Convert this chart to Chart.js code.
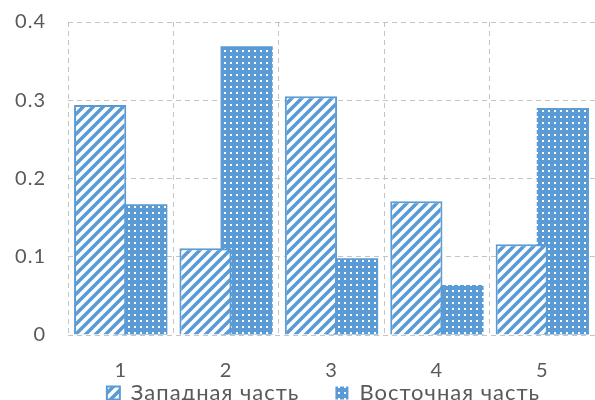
<!DOCTYPE html>
<html>
<head>
<meta charset="utf-8">
<script src="https://cdn.jsdelivr.net/npm/chart.js@4"></script>
<style>
  html, body { margin: 0; padding: 0; background: #fff; }
  #wrap { width: 595px; height: 400px; }
</style>
</head>
<body>
<div id="wrap"><canvas id="barChart" width="595" height="400"></canvas></div>
<script>
const categories = ["1", "2", "3", "4", "5"];
const westValues = [0.294, 0.111, 0.305, 0.171, 0.116];
const eastValues = [0.167, 0.369, 0.098, 0.064, 0.290];
const seriesNames = ["Западная часть", "Восточная часть"];
const yTicks = [0, 0.1, 0.2, 0.3, 0.4];

const blue = "#5b9bd5";
const textColor = "#595959";
const gridColor = "#c4c4c4";

// diagonal hatch "/"
function hatchPattern() {
  const c = document.createElement("canvas");
  c.width = 10; c.height = 10;
  const g = c.getContext("2d");
  g.fillStyle = "#fff";
  g.fillRect(0, 0, 10, 10);
  g.strokeStyle = blue;
  g.lineWidth = 3.5;
  g.beginPath();
  g.moveTo(-5, 5); g.lineTo(5, -5);
  g.moveTo(0, 10); g.lineTo(10, 0);
  g.moveTo(5, 15); g.lineTo(15, 5);
  g.stroke();
  return g.createPattern(c, "repeat");
}

// white dots on blue
function dotPattern() {
  const c = document.createElement("canvas");
  c.width = 6; c.height = 6;
  const g = c.getContext("2d");
  g.fillStyle = blue;
  g.fillRect(0, 0, 6, 6);
  g.fillStyle = "#fff";
  g.fillRect(2, 2, 2, 2);
  return g.createPattern(c, "repeat");
}

const ctx = document.getElementById("barChart");

new Chart(ctx.getContext("2d"), {
  type: "bar",
  data: {
    labels: categories,
    datasets: [{
      label: seriesNames[0],
      data: westValues,
      backgroundColor: hatchPattern(),
      borderColor: blue,
      borderWidth: 2,
      categoryPercentage: 0.78,
      barPercentage: 1.27
    }, {
      label: seriesNames[1],
      data: eastValues,
      backgroundColor: dotPattern(),
      borderColor: blue,
      borderWidth: 0,
      categoryPercentage: 0.78,
      barPercentage: 1.27
    }]
  },
  options: {
    responsive: false,
    animation: false,
    layout: { padding: { left: 0, right: 0, top: 22, bottom: -14 } },
    scales: {
      x: {
        grid: { color: gridColor, tickColor: "rgba(0,0,0,0)", tickLength: 26 },
        border: { display: false, dash: [5, 4] },
        ticks: {
          color: textColor,
          font: { family: "Lato", size: 20, lineHeight: 1 },
          padding: 0
        }
      },
      y: {
        min: 0,
        max: 0.4,
        afterBuildTicks: axis => { axis.ticks = yTicks.map(v => ({ value: v })); },
        ticks: {
          color: textColor,
          font: { family: "Lato", size: 20, lineHeight: 1 },
          padding: 0,
          callback: v => v === 0 ? "0" : v.toFixed(1)
        },
        grid: { color: gridColor, tickColor: "rgba(0,0,0,0)", tickLength: 22 },
        border: { display: false, dash: [5, 4] },
        afterFit: axis => { axis.width = 68; }
      }
    },
    plugins: {
      legend: {
        position: "bottom",
        labels: {
          color: textColor,
          font: { family: "Lato", size: 22, lineHeight: 1 },
          boxWidth: 13,
          boxHeight: 13,
          padding: 1,
          generateLabels: chart => {
            const items = Chart.defaults.plugins.legend.labels.generateLabels(chart);
            items[0].text += "\u2003\u2003";
            return items;
          }
        }
      },
      tooltip: { enabled: false }
    }
  },
  plugins: [{
    id: "spacing",
    beforeLayout(chart) { chart.ctx.letterSpacing = "1px"; },
    afterLayout(chart) {
      chart.legend.left += 26;
      chart.legend.right += 26;
    },
    beforeDraw(chart) { chart.ctx.letterSpacing = "1px"; }
  }]
});
</script>
</body>
</html>
